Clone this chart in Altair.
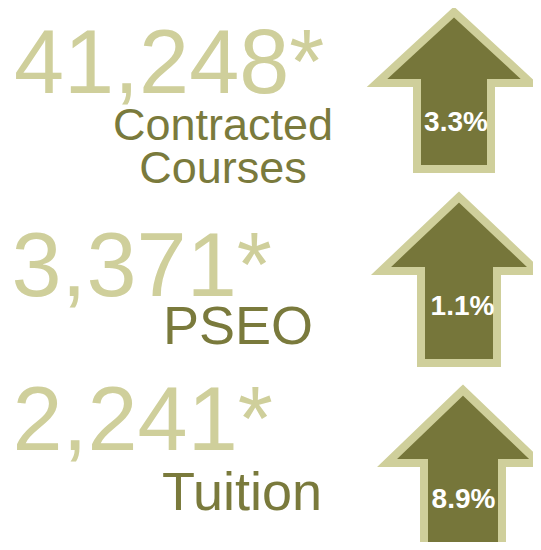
import altair as alt
import pandas as pd

# ---- data ----
values = ["41,248*", "3,371*", "2,241*"]
labels = [["Contracted", "Courses"], ["PSEO"], ["Tuition"]]
changes = ["3.3%", "1.1%", "8.9%"]

# ---- styles ----
LIGHT = "#CFCF9B"
DARK_TEXT = "#7A7A3C"
ARROW_FILL = "#76763A"
FONT = "Liberation Sans"

# ---- layout (page pixels) ----
num_x = [14, 11.5, 12.5]
num_base = [93, 296, 450]
num_size = 90
label_cx = [223, 238, 242]
label_base = [140, 344, 510]
label_size = [45, 54, 54]
label_gap = 43
arrow_cx = [454, 459, 463]
arrow_tip = [12, 197, 390]
arrow_head = [83, 271, 463]
arrow_bottom = [169, 363, 560]
head_half = [77, 78, 76]
shaft_half = [37, 38, 39]
pct_x = [456, 462.5, 463.5]
pct_base = [131, 315, 508]

W, H = 525, 534
xs = alt.Scale(domain=[8, 8 + W], nice=False, zero=False)
ys = alt.Scale(domain=[8 + H, 8], nice=False, zero=False)

num_df = pd.DataFrame({"x": num_x, "y": num_base, "t": values})

lab_rows = []
for i, lines in enumerate(labels):
    for j, line in enumerate(lines):
        lab_rows.append({"x": label_cx[i], "y": label_base[i] + j * label_gap,
                         "t": line, "s": label_size[i]})
lab_df = pd.DataFrame(lab_rows)

pct_df = pd.DataFrame({"x": pct_x, "y": pct_base, "t": changes})

arr_rows = []
for i in range(3):
    cx = arrow_cx[i]
    arr_rows += [
        {"a": i, "y": arrow_tip[i], "x": cx, "x2": cx},
        {"a": i, "y": arrow_head[i], "x": cx - head_half[i], "x2": cx + head_half[i]},
        {"a": i, "y": arrow_head[i] + 0.01, "x": cx - shaft_half[i], "x2": cx + shaft_half[i]},
        {"a": i, "y": arrow_bottom[i], "x": cx - shaft_half[i], "x2": cx + shaft_half[i]},
    ]
arr_df = pd.DataFrame(arr_rows)

arrows = alt.Chart(arr_df).mark_area(
    orient="horizontal", fill=ARROW_FILL, stroke=LIGHT, strokeWidth=8,
    strokeJoin="miter", strokeMiterLimit=10, clip=True, opacity=1
).encode(
    y=alt.Y("y:Q", scale=ys, axis=None),
    x=alt.X("x:Q", scale=xs, axis=None),
    x2="x2:Q",
    detail="a:N",
)

nums = alt.Chart(num_df).mark_text(
    align="left", baseline="alphabetic", font=FONT, fontSize=num_size, color=LIGHT
).encode(
    x=alt.X("x:Q", scale=xs, axis=None),
    y=alt.Y("y:Q", scale=ys, axis=None),
    text="t:N",
)

labs = alt.Chart(lab_df).mark_text(
    align="center", baseline="alphabetic", font=FONT, color=DARK_TEXT
).encode(
    x=alt.X("x:Q", scale=xs, axis=None),
    y=alt.Y("y:Q", scale=ys, axis=None),
    size=alt.Size("s:Q", scale=None, legend=None),
    text="t:N",
)

pcts = alt.Chart(pct_df).mark_text(
    align="center", baseline="alphabetic", font=FONT, fontSize=28,
    fontWeight="bold", color="white"
).encode(
    x=alt.X("x:Q", scale=xs, axis=None),
    y=alt.Y("y:Q", scale=ys, axis=None),
    text="t:N",
)

chart = alt.layer(arrows, nums, labs, pcts).properties(
    width=W, height=H, padding=0, autosize=alt.AutoSizeParams(type="none"),
    background="white"
).configure_view(stroke=None)

chart.save("out.html", embed_options={"renderer": "svg", "actions": False})
